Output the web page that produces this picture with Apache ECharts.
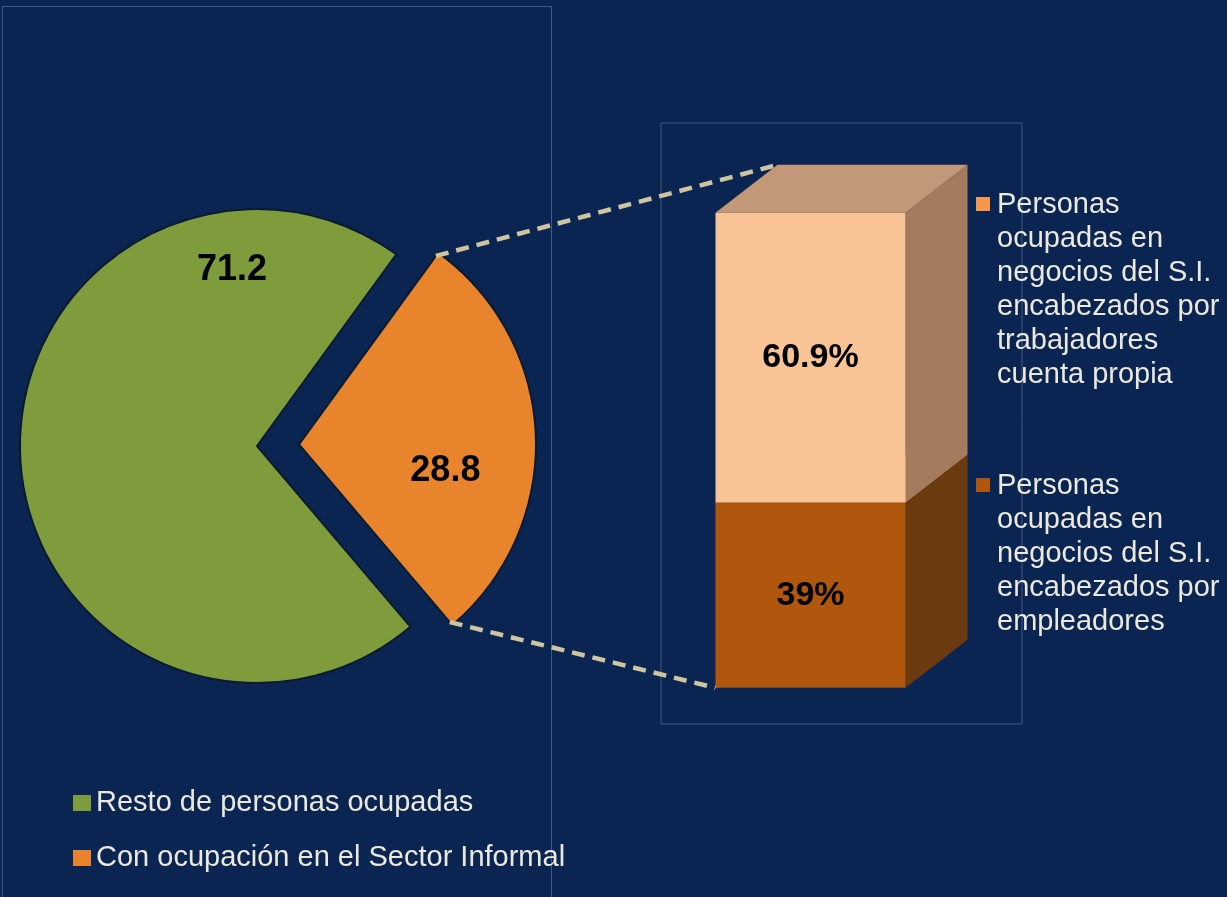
<!DOCTYPE html>
<html>
<head>
<meta charset="utf-8">
<title>Sector Informal</title>
<script src="https://cdn.jsdelivr.net/npm/echarts@6/dist/echarts.min.js"></script>
<style>
    html, body { margin: 0; padding: 0; background: #0b2552; }
    #main { width: 1227px; height: 897px; }
</style>
</head>
<body>
<div id="main"></div>
<script type="text/javascript">
    // pastel: personas ocupadas
    var pieNames = ['Con ocupación en el Sector Informal', 'Resto de personas ocupadas'];
    var pieValues = [28.8, 71.2];
    var pieColors = ['#e8842b', '#7f9c3c'];

    // barra: composicion del sector informal (de abajo hacia arriba)
    var siCategory = ['S.I.'];
    var siNames = [
        'Personas\nocupadas en\nnegocios del S.I.\nencabezados por\nempleadores',
        'Personas\nocupadas en\nnegocios del S.I.\nencabezados por\ntrabajadores\ncuenta propia'
    ];
    var siValues = [39, 60.9];
    var siFront = ['#b0560d', '#f8c395'];
    var siSide = ['#6c3a0f', '#a47c5d'];
    var siTop = ['#c47a3c', '#c39878'];
    var siLegend = ['#b0560e', '#f4994c'];

    var FONT = '"Liberation Sans", Arial, sans-serif';
    var PIE_C = [257, 446], PIE_R = 237, PIE_OFF = 42, PIE_START = 54;

    // caja 3D: frente + lado + tapa
    function barRender(idx) {
        return function (params, api) {
            var lo = api.coord([api.value(0), api.value(1)]);
            var hi = api.coord([api.value(0), api.value(2)]);
            var w = 190, dx = 62, dy = 48;
            var x0 = lo[0] - (w + dx) / 2, x1 = x0 + w;
            return {
                type: 'group',
                children: [
                    {type: 'polygon', shape: {points: [[x1, hi[1]], [x1 + dx, hi[1] - dy], [x1 + dx, lo[1] - dy], [x1, lo[1]]]},
                        style: {fill: siSide[idx]}},
                    {type: 'polygon', shape: {points: [[x0, hi[1]], [x0 + dx, hi[1] - dy], [x1 + dx, hi[1] - dy], [x1, hi[1]]]},
                        style: {fill: siTop[idx]}},
                    {type: 'rect', shape: {x: x0, y: hi[1], width: w, height: lo[1] - hi[1]},
                        style: {fill: siFront[idx]},
                        textContent: {style: {text: siValues[idx] + '%', font: 'bold 34px ' + FONT, fill: '#000'}},
                        textConfig: {position: 'inside'}}
                ]
            };
        };
    }

    var series = [{
        type: 'pie',
        center: PIE_C,
        radius: PIE_R,
        startAngle: PIE_START,
        selectedMode: 'single',
        selectedOffset: PIE_OFF,
        animation: false,
        itemStyle: {borderColor: '#0a1a30', borderWidth: 2},
        label: {
            show: true, position: 'inside', color: '#000', fontWeight: 'bold', fontSize: 36, fontFamily: FONT,
            formatter: function (p) { return p.value.toFixed(1); }
        },
        labelLine: {show: false},
        labelLayout: function (p) {
            if (p.dataIndex === 1) return {x: 232, y: 270};
            return {};
        },
        emphasis: {disabled: true},
        data: pieNames.map(function (n, i) {
            var d = {name: n, value: pieValues[i], selected: i === 0, itemStyle: {color: pieColors[i]}};
            if (i === 0) {
                // etiqueta corrida hacia abajo a la derecha, como en el original
                d.label = {padding: [0, 0, 0, 50], lineHeight: 62,
                    formatter: function (p) { return '\n' + p.value.toFixed(1); }};
            }
            return d;
        })
    }];

    var base = 0;
    for (var i = 0; i < siValues.length; i++) {
        series.push({
            type: 'custom',
            name: siNames[i],
            renderItem: barRender(i),
            encode: {x: 0, y: [1, 2]},
            data: [[0, base, base + siValues[i]]]
        });
        base += siValues[i];
    }
    var total = base;

    var myChart = echarts.init(document.getElementById('main'));
    myChart.setOption({
        backgroundColor: '#0b2552',
        animation: false,
        grid: {left: 661, top: 123, width: 361, height: 601, show: true,
            borderColor: 'rgba(130,150,190,0.45)', borderWidth: 1},
        xAxis: {type: 'category', data: siCategory, show: false},
        yAxis: {type: 'value', min: -7.6, max: 118.8, show: false},
        legend: {
            orient: 'vertical', left: 68, top: 781,
            itemWidth: 18, itemHeight: 16, itemGap: 21, icon: 'rect',
            selectedMode: false,
            itemStyle: {borderWidth: 0},
            data: [pieNames[1], pieNames[0]],
            textStyle: {color: '#ebe8dc', fontSize: 29, lineHeight: 34, fontFamily: FONT}
        },
        series: series
    });

    // lineas punteadas, marco y leyenda de la barra
    var topPt = myChart.convertToPixel({gridIndex: 0}, [0, total]);
    var botPt = myChart.convertToPixel({gridIndex: 0}, [0, 0]);
    var barLeft = topPt[0] - (190 + 62) / 2;

    var a0 = PIE_START, a1 = a0 - 360 * pieValues[0] / (pieValues[0] + pieValues[1]);
    var mid = (a0 + a1) / 2 * Math.PI / 180;
    var cx = PIE_C[0] + PIE_OFF * Math.cos(mid), cy = PIE_C[1] - PIE_OFF * Math.sin(mid);
    function rim(a) {
        a = a * Math.PI / 180;
        return [cx + (PIE_R - 4) * Math.cos(a), cy - (PIE_R - 4) * Math.sin(a)];
    }
    var p0 = rim(a0), p1 = rim(a1);

    var dash = {stroke: '#cfc6a0', lineWidth: 4.5, lineDash: [13, 8]};
    var graphic = [
        {type: 'rect', z: -1, shape: {x: 2.5, y: 6.5, width: 549, height: 900},
            style: {fill: 'none', stroke: 'rgba(130,150,190,0.45)', lineWidth: 1}},
        {type: 'line', z: 10, shape: {x1: p0[0], y1: p0[1], x2: barLeft + 62, y2: topPt[1] - 48}, style: dash},
        {type: 'line', z: 10, shape: {x1: p1[0], y1: p1[1], x2: barLeft, y2: botPt[1]}, style: dash}
    ];
    var legTop = [469, 188];
    for (var j = siValues.length - 1; j >= 0; j--) {
        graphic.push({type: 'rect', shape: {x: 976, y: legTop[j] + 9, width: 14, height: 14}, style: {fill: siLegend[j]}});
        graphic.push({type: 'text', x: 997, y: legTop[j],
            style: {text: siNames[j], font: '29px ' + FONT, fill: '#ebe8dc', lineHeight: 34, verticalAlign: 'top'}});
    }
    myChart.setOption({graphic: graphic});
</script>
</body>
</html>
